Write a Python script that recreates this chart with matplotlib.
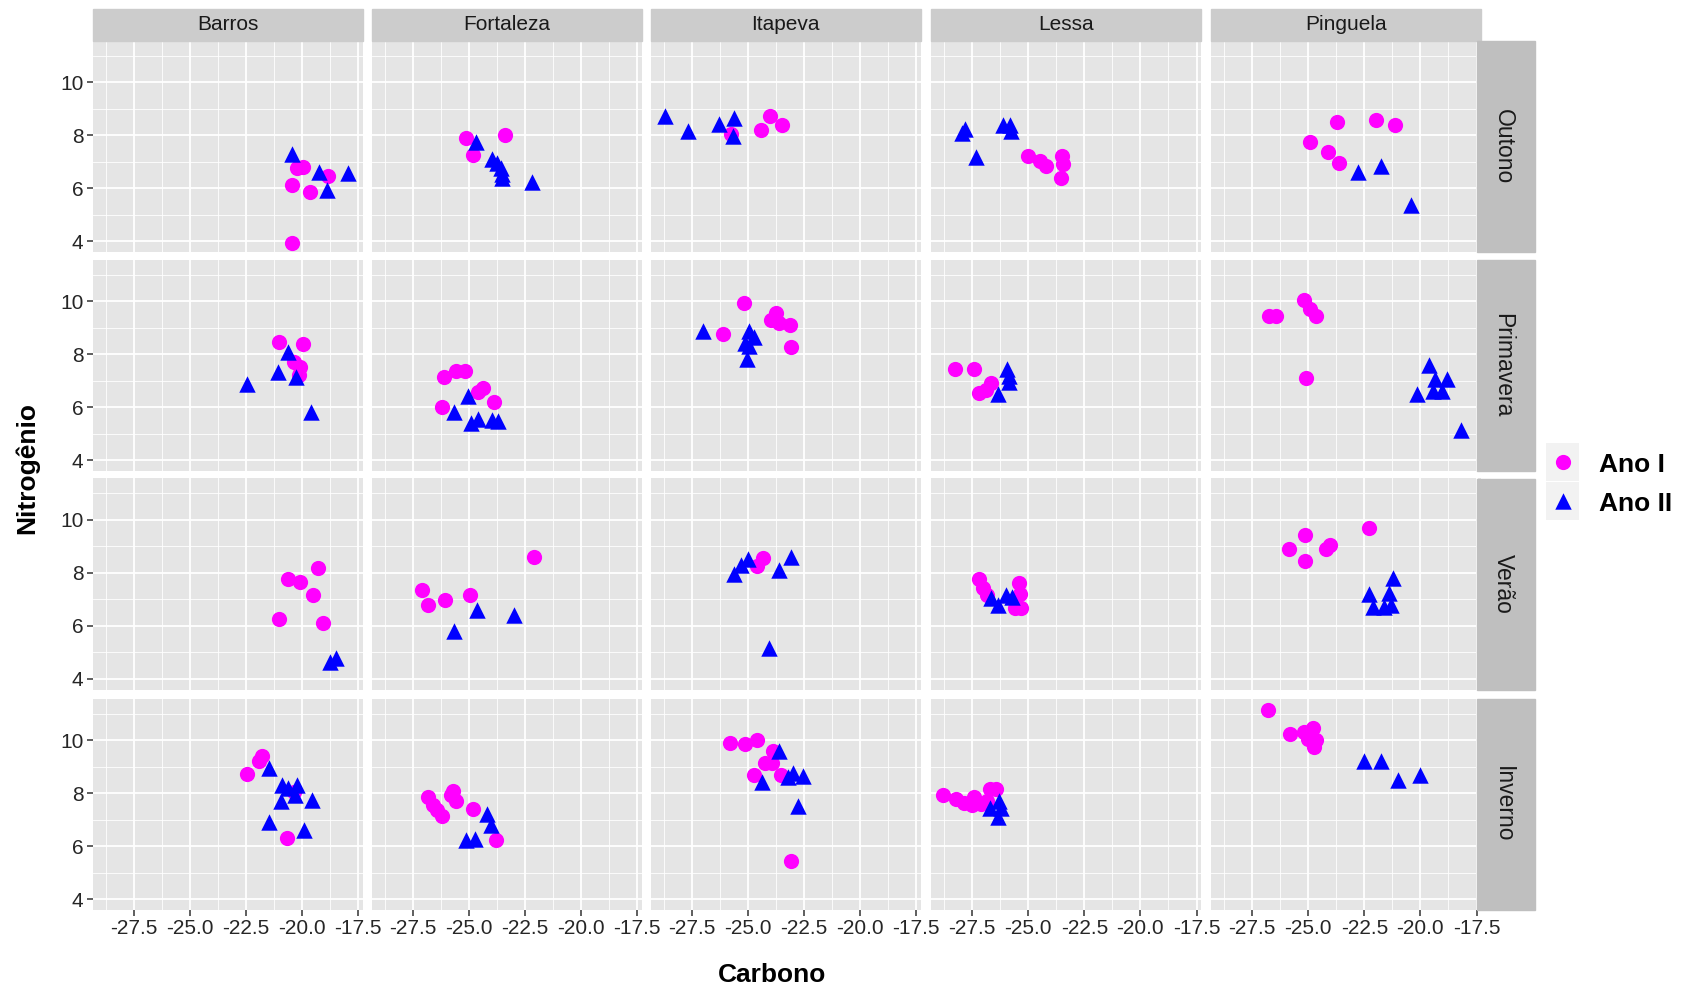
import matplotlib.pyplot as plt
from matplotlib.patches import Rectangle

plt.rcParams['font.family'] = ['Liberation Sans', 'DejaVu Sans']

sites = ["Barros", "Fortaleza", "Itapeva", "Lessa", "Pinguela"]
seasons = ["Outono", "Primavera", "Verão", "Inverno"]
years = ["Ano I", "Ano II"]
x_ticks = [-27.5, -25.0, -22.5, -20.0, -17.5]
y_ticks = [4, 6, 8, 10]

# carbono (c) e nitrogênio (n) por local, na ordem de `sites`
outono_ano1_c = [[-20.2, -19.95, -18.82, -20.42, -19.64, -20.42],
                 [-25.13, -24.8, -23.36],
                 [-25.75, -24.02, -24.41, -23.48],
                 [-25.03, -24.49, -24.19, -23.48, -23.45, -23.56],
                 [-23.72, -21.97, -21.13, -24.93, -24.1, -23.63]]
outono_ano1_n = [[6.78, 6.8, 6.46, 6.12, 5.87, 3.94],
                 [7.88, 7.25, 8.0],
                 [8.05, 8.71, 8.21, 8.37],
                 [7.22, 7.04, 6.85, 7.21, 6.91, 6.38],
                 [8.5, 8.59, 8.37, 7.73, 7.35, 6.96]]
outono_ano2_c = [[-20.42, -19.22, -17.94, -18.87],
                 [-24.67, -23.95, -23.75, -23.55, -23.5, -23.5, -22.16],
                 [-28.7, -27.65, -26.3, -25.6, -25.65],
                 [-27.95, -27.8, -27.33, -26.1, -25.8, -25.75],
                 [-22.79, -21.74, -20.44]]
outono_ano2_n = [[7.29, 6.63, 6.59, 5.94],
                 [7.75, 7.1, 6.95, 6.75, 6.55, 6.38, 6.25],
                 [8.72, 8.17, 8.42, 8.66, 7.98],
                 [8.1, 8.25, 7.19, 8.4, 8.4, 8.15],
                 [6.6, 6.85, 5.38]]

primavera_ano1_c = [[-21.0, -19.95, -20.35, -20.1, -20.15],
                    [-26.09, -25.58, -25.16, -24.36, -24.6, -23.89, -26.17],
                    [-26.08, -25.17, -23.73, -23.94, -23.6, -23.12, -23.06],
                    [-28.25, -27.4, -27.2, -26.9, -26.65],
                    [-26.76, -26.44, -25.18, -24.93, -24.63, -25.1]]
primavera_ano1_n = [[8.46, 8.4, 7.7, 7.5, 7.2],
                    [7.16, 7.35, 7.35, 6.72, 6.58, 6.21, 6.0],
                    [8.78, 9.94, 9.56, 9.28, 9.16, 9.09, 8.26],
                    [7.44, 7.44, 6.55, 6.65, 6.9],
                    [9.44, 9.44, 10.04, 9.71, 9.44, 7.1]]
primavera_ano2_c = [[-20.64, -21.06, -20.27, -22.46, -19.6],
                    [-25.05, -25.65, -24.9, -24.6, -23.95, -23.7],
                    [-27.01, -24.95, -24.7, -25.12, -24.95, -25.03],
                    [-25.93, -25.84, -25.84, -26.35],
                    [-19.6, -19.35, -18.8, -20.15, -19.45, -19.05, -18.2]]
primavera_ano2_n = [[8.1, 7.34, 7.15, 6.88, 5.81],
                    [6.44, 5.84, 5.42, 5.57, 5.52, 5.5],
                    [8.87, 8.87, 8.66, 8.44, 8.31, 7.81],
                    [7.44, 7.19, 6.94, 6.5],
                    [7.58, 7.05, 7.08, 6.5, 6.62, 6.62, 5.15]]

verao_ano1_c = [[-21.0, -20.64, -20.09, -19.27, -19.49, -19.04],
                [-27.09, -26.82, -26.04, -24.95, -22.09],
                [-24.3, -24.6],
                [-27.17, -27.0, -26.85, -25.4, -25.36, -25.6, -25.3],
                [-22.28, -25.15, -25.84, -25.15, -24.19, -24.01]]
verao_ano1_n = [[6.24, 7.78, 7.65, 8.18, 7.15, 6.1],
                [7.34, 6.77, 6.96, 7.15, 8.58],
                [8.55, 8.25],
                [7.75, 7.43, 7.16, 7.6, 7.2, 6.66, 6.66],
                [9.69, 9.44, 8.91, 8.46, 8.88, 9.04]]
verao_ano2_c = [[-18.77, -18.49],
                [-25.67, -24.62, -22.98],
                [-25.6, -25.3, -25.0, -23.6, -23.05, -24.05],
                [-26.65, -26.35, -26.0, -25.7],
                [-22.3, -21.2, -21.4, -22.1, -21.3, -21.6]]
verao_ano2_n = [[4.62, 4.77],
                [5.82, 6.61, 6.42],
                [7.95, 8.3, 8.5, 8.1, 8.6, 5.15],
                [7.05, 6.8, 7.15, 7.1],
                [7.2, 7.8, 7.25, 6.7, 6.8, 6.72]]

inverno_ano1_c = [[-22.45, -21.9, -21.8, -20.65, -20.35],
                  [-26.8, -26.6, -26.4, -26.2, -25.8, -25.7, -25.55, -24.8, -23.8],
                  [-25.8, -25.1, -24.6, -23.85, -24.25, -23.9, -24.7, -23.5, -23.05],
                  [-28.8, -28.2, -27.85, -27.5, -27.4, -27.1, -26.85, -26.7, -26.45],
                  [-26.8, -25.8, -25.2, -24.8, -25.0, -24.75, -24.65]]
inverno_ano1_n = [[8.72, 9.2, 9.4, 6.33, 8.05],
                  [7.85, 7.55, 7.35, 7.15, 7.95, 8.1, 7.7, 7.42, 6.25],
                  [9.88, 9.84, 10.0, 9.6, 9.12, 9.12, 8.68, 8.68, 5.45],
                  [7.95, 7.8, 7.62, 7.55, 7.85, 7.6, 7.7, 8.15, 8.15],
                  [11.15, 10.25, 10.3, 10.45, 10.05, 9.75, 10.0]]
inverno_ano2_c = [[-21.45, -20.9, -20.6, -20.2, -20.3, -20.95, -19.55, -21.45, -19.9],
                  [-24.2, -24.0, -25.1, -24.7],
                  [-23.6, -23.2, -23.0, -22.55, -24.35, -22.75],
                  [-26.7, -26.3, -26.2, -26.35],
                  [-22.5, -21.76, -20.99, -20.03]]
inverno_ano2_n = [[8.95, 8.3, 8.2, 8.3, 7.92, 7.7, 7.75, 6.92, 6.62],
                  [7.2, 6.8, 6.22, 6.27],
                  [9.6, 8.62, 8.78, 8.64, 8.42, 7.52],
                  [7.45, 7.7, 7.45, 7.12],
                  [9.23, 9.23, 8.51, 8.69]]

dados = {
    "Outono": [(outono_ano1_c, outono_ano1_n), (outono_ano2_c, outono_ano2_n)],
    "Primavera": [(primavera_ano1_c, primavera_ano1_n), (primavera_ano2_c, primavera_ano2_n)],
    "Verão": [(verao_ano1_c, verao_ano1_n), (verao_ano2_c, verao_ano2_n)],
    "Inverno": [(inverno_ano1_c, inverno_ano1_n), (inverno_ano2_c, inverno_ano2_n)],
}

cores = ["#FF00FF", "#0000FF"]
marcas = [("o", 120), ("^", 140)]

W, H = 1686, 990
fig = plt.figure(figsize=(W / 100, H / 100), dpi=100)


def box(x, y, w, h):
    # pixels (origem no canto superior) -> fração da figura
    return [x / W, 1 - (y + h) / H, w / W, h / H]


col_x = [92.5, 371.5, 650.5, 931, 1211]
pw = 270
row_y = [41, 260, 478.5, 699]
ph = 211

for j, season in enumerate(seasons):
    for i, site in enumerate(sites):
        ax = fig.add_axes(box(col_x[i], row_y[j], pw, ph))
        ax.set_facecolor("#E5E5E5")
        for s in ax.spines.values():
            s.set_visible(False)
        for k in range(2):
            c, n = dados[season][k]
            m, sz = marcas[k]
            ax.scatter(c[i], n[i], marker=m, s=sz, color=cores[k],
                       linewidths=0, zorder=3 + k)
        ax.set_xlim(-29.33, -17.3)
        ax.set_ylim(3.6, 11.55)
        ax.set_xticks(x_ticks)
        ax.set_xticks([-28.75, -26.25, -23.75, -21.25, -18.75], minor=True)
        ax.set_yticks(y_ticks)
        ax.set_yticks([5, 7, 9, 11], minor=True)
        ax.set_xticklabels([f"{v:.1f}" for v in x_ticks])
        ax.grid(which="major", color="white", lw=1.3)
        ax.grid(which="minor", color="white", lw=0.6)
        ax.set_axisbelow(True)
        ax.tick_params(which="minor", length=0)
        ax.tick_params(which="major", length=4.5, width=1.1, color="#333333",
                       labelcolor="#262626", labelsize=15, pad=2)
        ax.tick_params(left=(i == 0), labelleft=(i == 0),
                       bottom=(j == 3), labelbottom=(j == 3))

# faixas de título dos locais (topo)
for i, site in enumerate(sites):
    fig.patches.append(Rectangle((col_x[i] / W, 1 - 40.5 / H), pw / W, 32 / H,
                                 transform=fig.transFigure, color="#CCCCCC"))
    fig.text((col_x[i] + pw / 2) / W, 1 - 24.5 / H, site, ha="center", va="center",
             fontsize=15, color="#1A1A1A")

# faixas das estações (direita)
for j, season in enumerate(seasons):
    fig.patches.append(Rectangle((1477 / W, 1 - (row_y[j] + ph) / H), 58 / W, ph / H,
                                 transform=fig.transFigure, color="#BFBFBF"))
    fig.text(1503 / W, 1 - (row_y[j] + ph / 2) / H, season, ha="center", va="center",
             rotation=-90, fontsize=16.5, color="#1A1A1A")

fig.text(772 / W, 1 - 975 / H, "Carbono", ha="center", va="center",
         fontsize=19, fontweight="bold")
fig.text(27 / W, 1 - 468 / H, "Nitrogênio", ha="center", va="center",
         rotation=90, fontsize=19, fontweight="bold")

# legenda
leg = fig.add_axes(box(1540, 440, 146, 85))
leg.set_xlim(1540, 1686)
leg.set_ylim(525, 440)
leg.axis("off")
key_y = [462, 501]
for k, ano in enumerate(years):
    leg.add_patch(Rectangle((1546, key_y[k] - 19), 33, 38, color="#F2F2F2", lw=0))
    m, sz = marcas[k]
    leg.scatter([1563], [key_y[k]], marker=m, s=sz, color=cores[k], linewidths=0)
    leg.text(1599, key_y[k] + 3, ano, ha="left", va="center", fontsize=19,
             fontweight="bold")

fig.savefig("out.png", dpi=100)
